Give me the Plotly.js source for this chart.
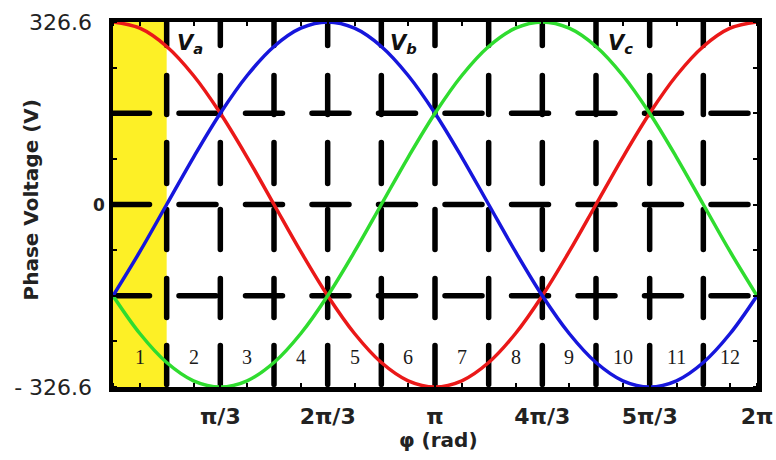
<!DOCTYPE html>
<html>
<head>
<meta charset="utf-8">
<script src="https://cdn.plot.ly/plotly-3.0.1.min.js"></script>
<style>
  html, body { margin: 0; padding: 0; background: #fff; }
  #chart { width: 776px; height: 460px; }
  .shapelayer path { stroke-linecap: round; }
</style>
</head>
<body>
<div id="chart"></div>
<script>
// Phase angle samples (rad), every pi/12 over one full period
const phi = [0, 0.2618, 0.5236, 0.7854, 1.0472, 1.3090, 1.5708, 1.8326, 2.0944,
             2.3562, 2.6180, 2.8798, 3.1416, 3.4034, 3.6652, 3.9270, 4.1888,
             4.4506, 4.7124, 4.9742, 5.2360, 5.4978, 5.7596, 6.0214, 6.2832];

// Phase voltages (V)
const va = [326.6, 315.5, 282.8, 230.9, 163.3, 84.5, 0, -84.5, -163.3, -230.9, -282.8, -315.5,
            -326.6, -315.5, -282.8, -230.9, -163.3, -84.5, 0, 84.5, 163.3, 230.9, 282.8, 315.5, 326.6];
const vb = [-163.3, -84.5, 0, 84.5, 163.3, 230.9, 282.8, 315.5, 326.6, 315.5, 282.8, 230.9,
            163.3, 84.5, 0, -84.5, -163.3, -230.9, -282.8, -315.5, -326.6, -315.5, -282.8, -230.9, -163.3];
const vc = [-163.3, -230.9, -282.8, -315.5, -326.6, -315.5, -282.8, -230.9, -163.3, -84.5, 0, 84.5,
            163.3, 230.9, 282.8, 315.5, 326.6, 315.5, 282.8, 230.9, 163.3, 84.5, 0, -84.5, -163.3];

// Axis ticks
const xTickVals = [1.0472, 2.0944, 3.1416, 4.1888, 5.2360, 6.2832];
const xTickText = ['π/3', '2π/3', 'π', '4π/3', '5π/3', '2π'];
const yTickVals = [-326.6, 326.6];
const yTickText = ['- 326.6', '326.6'];

// Interior grid positions
const gridX = [0.5236, 1.0472, 1.5708, 2.0944, 2.6180, 3.1416, 3.6652, 4.1888, 4.7124, 5.2360, 5.7596];
const gridY = [-163.3, 0, 163.3];

// Sector numbering (one per pi/6 interval) and highlighted sector
const sectors = ['1', '2', '3', '4', '5', '6', '7', '8', '9', '10', '11', '12'];
const sectorWidth = 0.5236;
const highlight = [0, 0.5236];

// Curve name labels
const curveNames = ['a', 'b', 'c'];
const curveLabelX = [0.75, 2.83, 4.95];

const VMAX = 326.6;

// dash patterns for the grid (px, round caps)
const vDash = '23.5px,30px,39px,28px,41px,26px,40px,29px,39px,28px,39px,60px';
let hParts = ['36.5px', '29.5px'];
for (let i = 0; i < 10; i++) hParts.push('37px', '29.5px');
const hDash = hParts.join(',');

const shapes = [{
  type: 'rect', layer: 'below', xref: 'x', yref: 'paper',
  x0: highlight[0], x1: highlight[1], y0: 0, y1: 1,
  fillcolor: '#fdf026', line: { width: 0 }
}];
gridX.forEach(v => shapes.push({
  type: 'line', layer: 'below', xref: 'x', yref: 'paper',
  x0: v, x1: v, y0: 1, y1: 0,
  line: { color: '#000', width: 5.5, dash: vDash }
}));
gridY.forEach(v => shapes.push({
  type: 'line', layer: 'below', xref: 'paper', yref: 'y',
  x0: 0, x1: 1, y0: v, y1: v,
  line: { color: '#000', width: 5.5, dash: hDash }
}));

const annotations = [];
sectors.forEach((s, i) => annotations.push({
  xref: 'x', yref: 'y', x: (i + 0.5) * sectorWidth, y: -273,
  text: s, showarrow: false, xanchor: 'center', yanchor: 'middle',
  font: { family: 'Liberation Serif', size: 20, color: '#1a1a1a' }
}));
curveNames.forEach((n, i) => annotations.push({
  xref: 'x', yref: 'y', x: curveLabelX[i], y: 288,
  text: '<b><i>V</i></b><sub><b><i>' + n + '</i></b></sub>',
  showarrow: false, xanchor: 'center', yanchor: 'middle',
  font: { family: 'DejaVu Sans', size: 21, color: '#111' }
}));
annotations.push({
  xref: 'paper', yref: 'y', x: 0, y: 0, xshift: -6, text: '0',
  showarrow: false, xanchor: 'right', yanchor: 'middle',
  font: { family: 'DejaVu Sans', size: 17, color: '#222', weight: 'bold' }
});
annotations.push({
  xref: 'paper', yref: 'paper', x: 0, y: 0.5, xshift: -83, yshift: 4,
  text: '<b>Phase Voltage (V)</b>', textangle: -90, showarrow: false,
  xanchor: 'center', yanchor: 'middle',
  font: { family: 'DejaVu Sans', size: 20, color: '#222' }
});
annotations.push({
  xref: 'paper', yref: 'paper', x: 0.5, y: 0, xshift: 3, yshift: -53,
  text: '<b>φ (rad)</b>', showarrow: false,
  xanchor: 'center', yanchor: 'middle',
  font: { family: 'DejaVu Sans', size: 20, color: '#222' }
});

const lineStyle = (c) => ({ color: c, width: 3.5, shape: 'spline', smoothing: 1 });
const traces = [
  { x: phi, y: va, name: 'Va', mode: 'lines', line: lineStyle('#ea1818'), hoverinfo: 'skip' },
  { x: phi, y: vb, name: 'Vb', mode: 'lines', line: lineStyle('#1616dc'), hoverinfo: 'skip' },
  { x: phi, y: vc, name: 'Vc', mode: 'lines', line: lineStyle('#2fdc2f'), hoverinfo: 'skip' }
];

const layout = {
  width: 776, height: 460,
  margin: { l: 113, r: 19, t: 22, b: 73, pad: 0 },
  paper_bgcolor: '#fff', plot_bgcolor: '#fff',
  showlegend: false,
  xaxis: {
    range: [0, 6.2832], fixedrange: true,
    tickmode: 'array', tickvals: xTickVals, ticktext: xTickText,
    ticks: '', showgrid: false, zeroline: false,
    showline: true, linecolor: '#000', linewidth: 4.5, mirror: 'ticks',
    ticklabelstandoff: 6,
    tickfont: { family: 'DejaVu Sans', size: 22, color: '#222', weight: 'bold' },
    minor: { ticks: 'inside', ticklen: 4, tickwidth: 2, tickcolor: '#000',
             tickmode: 'linear', tick0: 0, dtick: 0.2618, showgrid: false }
  },
  yaxis: {
    range: [-VMAX, VMAX], fixedrange: true,
    tickmode: 'array', tickvals: yTickVals, ticktext: yTickText,
    ticks: '', showgrid: false, zeroline: false,
    showline: true, linecolor: '#000', linewidth: 4.5, mirror: 'ticks',
    ticklabelstandoff: 12,
    tickfont: { family: 'DejaVu Sans', size: 22, color: '#222' },
    minor: { ticks: 'inside', ticklen: 4, tickwidth: 2, tickcolor: '#000',
             tickmode: 'linear', tick0: 0, dtick: 81.65, showgrid: false }
  },
  shapes: shapes,
  annotations: annotations
};

Plotly.newPlot('chart', traces, layout, { staticPlot: true, displayModeBar: false });
</script>
</body>
</html>
